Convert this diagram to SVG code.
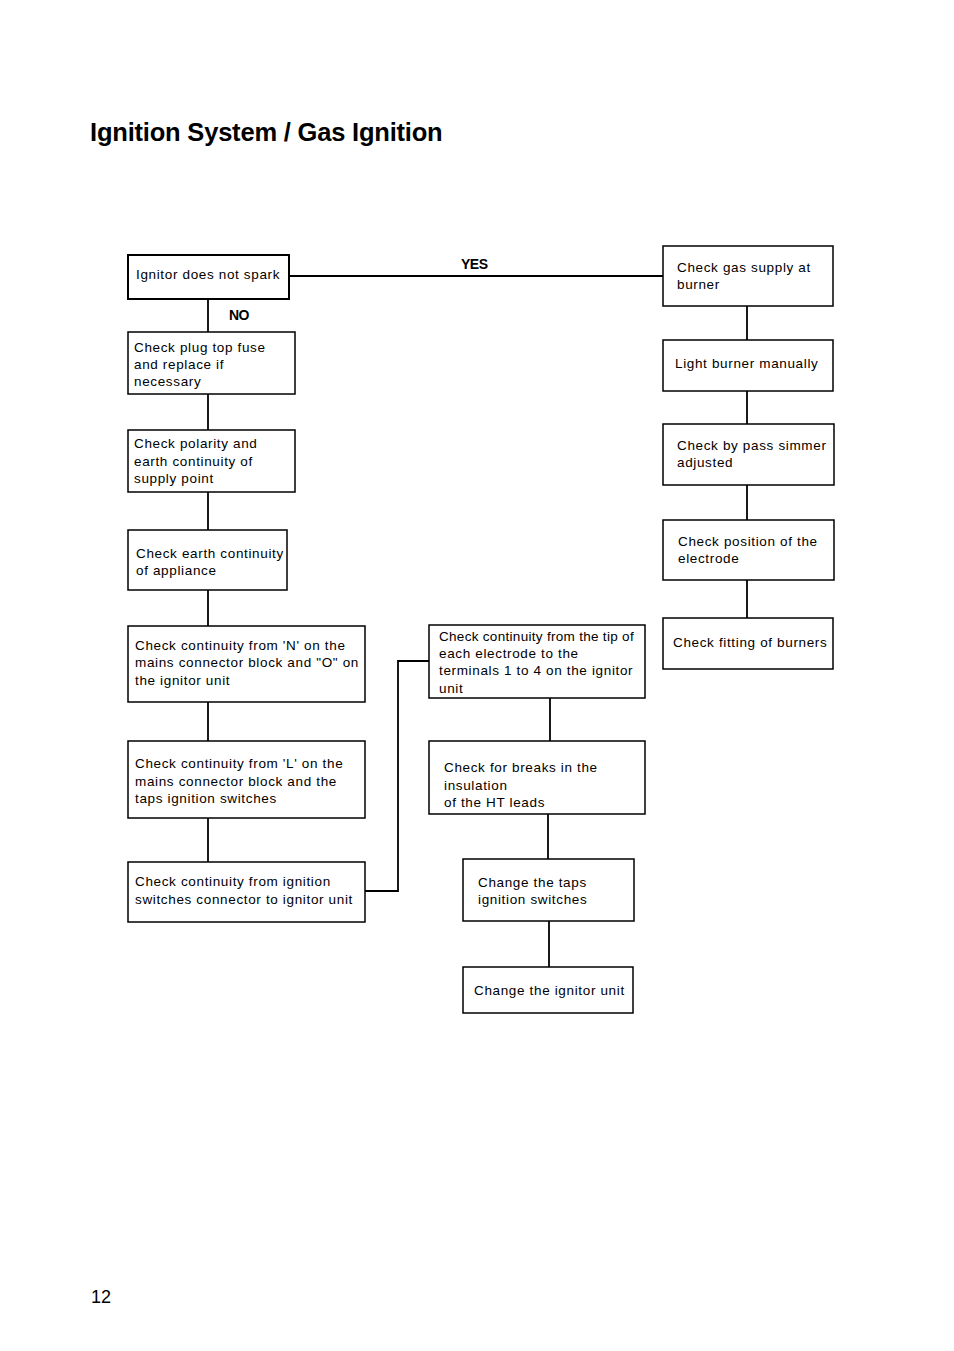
<svg xmlns="http://www.w3.org/2000/svg" width="954" height="1351" viewBox="0 0 954 1351">
<style>
rect{fill:#fff;stroke:#000;stroke-width:1.5}
.c line,.c polyline{stroke:#000;stroke-width:1.8;fill:none}
text{font-family:"Liberation Sans",Arial,sans-serif;font-size:13.5px;fill:#000;letter-spacing:0.65px}
.b{font-weight:bold;font-size:14px;letter-spacing:-0.5px}
</style>
<rect width="954" height="1351" style="stroke:none"/>
<text x="90" y="141" style="font-size:25.5px;font-weight:bold;letter-spacing:-0.2px">Ignition System / Gas Ignition</text>
<text x="91" y="1303" style="font-size:18px;letter-spacing:0">12</text>
<g class="c">
<line x1="289" y1="276" x2="663" y2="276"/>
<line x1="208" y1="299" x2="208" y2="332"/>
<line x1="208" y1="394" x2="208" y2="430"/>
<line x1="208" y1="492" x2="208" y2="530"/>
<line x1="208" y1="590" x2="208" y2="626"/>
<line x1="208" y1="702" x2="208" y2="741"/>
<line x1="208" y1="818" x2="208" y2="862"/>
<polyline points="365,891 398,891 398,661 429,661"/>
<line x1="550" y1="698" x2="550" y2="741"/>
<line x1="548" y1="814" x2="548" y2="859"/>
<line x1="549" y1="921" x2="549" y2="967"/>
<line x1="747" y1="306" x2="747" y2="340"/>
<line x1="747" y1="391" x2="747" y2="424"/>
<line x1="747" y1="485" x2="747" y2="520"/>
<line x1="747" y1="580" x2="747" y2="618"/>
<text class="b" x="461" y="269">YES</text>
<text class="b" x="229" y="320">NO</text>
</g>
<g id="n1"><rect x="128" y="255" width="161" height="44" style="stroke-width:2"/><text x="136" y="279">Ignitor does not spark</text></g>
<g id="n2"><rect x="128" y="332" width="167" height="62"/><text x="134" y="352">Check plug top fuse</text><text x="134" y="369">and replace if</text><text x="134" y="386">necessary</text></g>
<g id="n3"><rect x="128" y="430" width="167" height="62"/><text x="134" y="448">Check polarity and</text><text x="134" y="466">earth continuity of</text><text x="134" y="483">supply point</text></g>
<g id="n4"><rect x="128" y="530" width="159" height="60"/><text x="136" y="558">Check earth continuity</text><text x="136" y="575">of appliance</text></g>
<g id="n5"><rect x="128" y="626" width="237" height="76"/><text x="135" y="650">Check continuity from 'N' on the</text><text x="135" y="667">mains connector block and "O" on</text><text x="135" y="685">the ignitor unit</text></g>
<g id="n6"><rect x="128" y="741" width="237" height="77"/><text x="135" y="768">Check continuity from 'L' on the</text><text x="135" y="786">mains connector block and the</text><text x="135" y="803">taps ignition switches</text></g>
<g id="n7"><rect x="128" y="862" width="237" height="60"/><text x="135" y="886">Check continuity from ignition</text><text x="135" y="904">switches connector to ignitor unit</text></g>
<g id="n8"><rect x="429" y="625" width="216" height="73"/><text x="439" y="641" style="letter-spacing:0.3px">Check continuity from the tip of</text><text x="439" y="658">each electrode to the</text><text x="439" y="675">terminals 1 to 4 on the ignitor</text><text x="439" y="693">unit</text></g>
<g id="n9"><rect x="429" y="741" width="216" height="73"/><text x="444" y="772">Check for breaks in the</text><text x="444" y="790">insulation</text><text x="444" y="807">of the HT leads</text></g>
<g id="n10"><rect x="463" y="859" width="171" height="62"/><text x="478" y="887">Change the taps</text><text x="478" y="904">ignition switches</text></g>
<g id="n11"><rect x="463" y="967" width="170" height="46"/><text x="474" y="995">Change the ignitor unit</text></g>
<g id="r1"><rect x="663" y="246" width="170" height="60"/><text x="677" y="272">Check gas supply at</text><text x="677" y="289">burner</text></g>
<g id="r2"><rect x="663" y="340" width="170" height="51"/><text x="675" y="368">Light burner manually</text></g>
<g id="r3"><rect x="663" y="424" width="171" height="61"/><text x="677" y="450">Check by pass simmer</text><text x="677" y="467">adjusted</text></g>
<g id="r4"><rect x="663" y="520" width="171" height="60"/><text x="678" y="546">Check position of the</text><text x="678" y="563">electrode</text></g>
<g id="r5"><rect x="663" y="618" width="170" height="51"/><text x="673" y="647">Check fitting of burners</text></g>
</svg>
